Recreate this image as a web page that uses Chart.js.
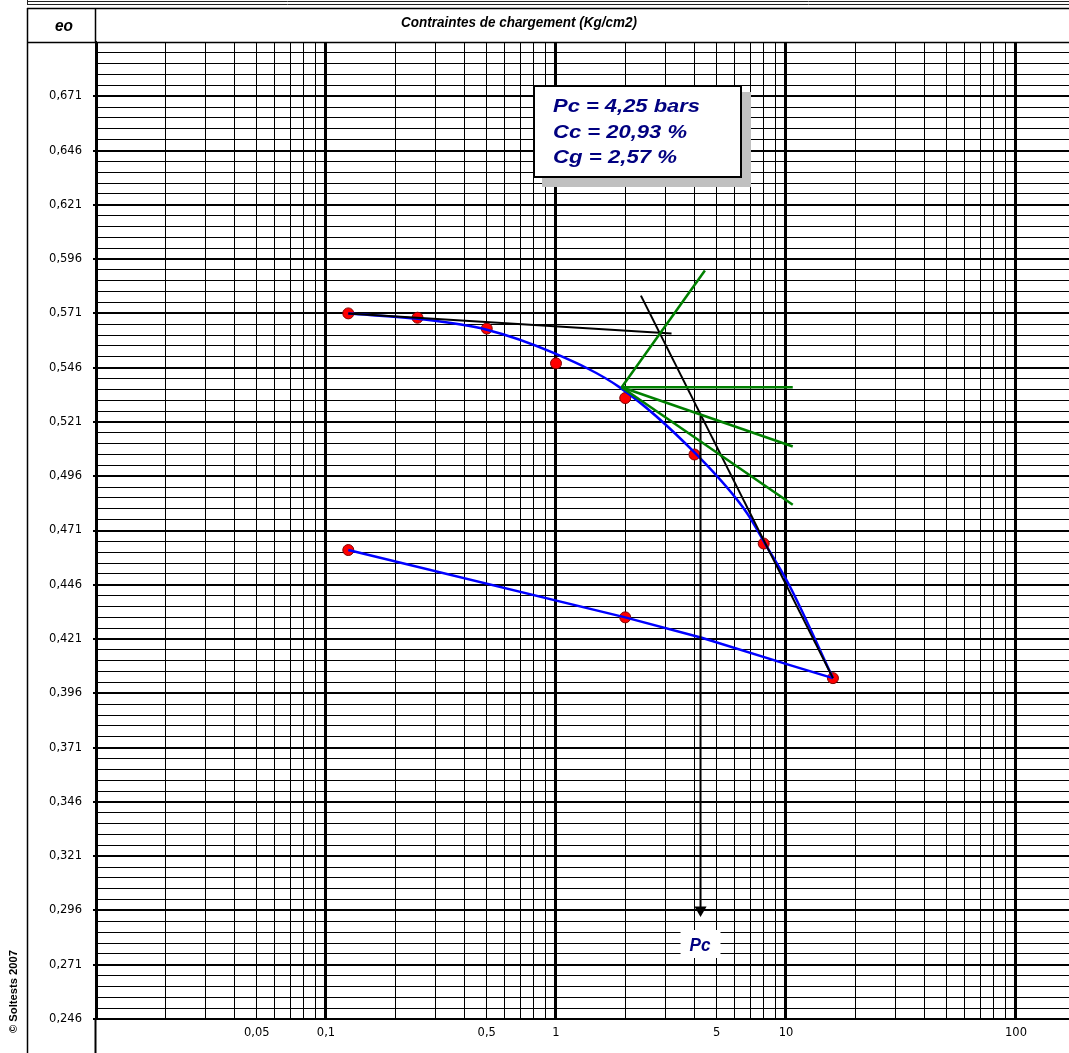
<!DOCTYPE html>
<html>
<head>
<meta charset="utf-8">
<script src="https://cdn.jsdelivr.net/npm/chart.js@4.4.0/dist/chart.umd.min.js"></script>
<style>
  html, body { margin: 0; padding: 0; background: #fff; overflow: hidden; }
  #wrap { width: 1069px; height: 1053px; position: relative; }
</style>
</head>
<body>
<div id="wrap"><canvas id="oedo" width="1069" height="1053"></canvas></div>
<script>
// essai oedometrique - courbe e / log(p)

// points mesures (chargement puis dechargement)
var pressions = [0.125, 0.25, 0.5, 1, 2, 4, 8, 16, 2, 0.125];
var indicesVides = [0.571, 0.569, 0.564, 0.548, 0.532, 0.506, 0.465, 0.403, 0.431, 0.462];

// courbe lissee de chargement
var courbeP = [0.125, 0.256, 0.5, 0.97, 1.9, 4.09, 6.75, 8.24, 10.4, 16];
var courbeE = [0.5709, 0.5684, 0.5635, 0.5529, 0.5368, 0.5059, 0.4792, 0.4637, 0.4452, 0.403];

// dechargement
var dechargeP = [16, 10.4, 4.3, 2, 0.125];
var dechargeE = [0.403, 0.409, 0.4216, 0.431, 0.462];

// construction de Casagrande
var tangenteP = [0.125, 3.18];
var tangenteE = [0.571, 0.5617];
var viergeP = [2.34, 16];
var viergeE = [0.5792, 0.403];
var origineP = 1.93, origineE = 0.537;
var vertP = [4.44, 10.7, 10.7, 10.7];
var vertE = [0.5908, 0.537, 0.5097, 0.4829];
var pcP = [4.25, 4.25];
var pcE = [0.5239, 0.2962];

// etiquettes des axes
var xLabels = [0.05, 0.1, 0.5, 1, 5, 10, 100];
var yLabels = [0.246, 0.271, 0.296, 0.321, 0.346, 0.371, 0.396, 0.421, 0.446, 0.471,
               0.496, 0.521, 0.546, 0.571, 0.596, 0.621, 0.646, 0.671];

var resultats = ["Pc = 4,25 bars", "Cc = 20,93 %", "Cg = 2,57 %"];

function pts(px, py) {
  var out = [];
  for (var i = 0; i < px.length; i++) out.push({x: px[i], y: py[i]});
  return out;
}

function virgule(v) {
  return String(v).replace(".", ",");
}

function estDans(liste, v) {
  for (var i = 0; i < liste.length; i++) {
    if (Math.abs(liste[i] - v) < 1e-7 * Math.max(1, Math.abs(v))) return true;
  }
  return false;
}

// lignes de grille
var grilleX = [];
for (var e = -2; e <= 2; e++) {
  for (var m = 1; m <= 9; m++) {
    var v = Number((m * Math.pow(10, e)).toPrecision(6));
    if (v <= 170) grilleX.push(v);
  }
}
var grilleY = [];
for (var i = 0; i <= 90; i++) grilleY.push((246 + 5 * i) / 1000);

function decade(v) {
  var l = Math.log10(v);
  return Math.abs(l - Math.round(l)) < 1e-9;
}

function sansMarges(s) {
  s.paddingLeft = 0; s.paddingRight = 0;
  s.paddingTop = 0; s.paddingBottom = 0;
}

function texteAjuste(ctx, txt, x, yBase, largeur, police, couleur) {
  ctx.save();
  ctx.font = police;
  var w = ctx.measureText(txt).width;
  ctx.translate(x, yBase);
  ctx.scale(largeur / w, 1);
  ctx.fillStyle = couleur;
  ctx.textAlign = "left";
  ctx.textBaseline = "alphabetic";
  ctx.fillText(txt, 0, 0);
  ctx.restore();
}

var habillage = {
  id: "habillage",
  afterDraw: function(chart) {
    var ctx = chart.ctx;
    var W = chart.width, H = chart.height;
    ctx.save();

    // cadre du haut
    ctx.lineWidth = 1;
    ctx.strokeStyle = "#222";
    ctx.beginPath();
    ctx.moveTo(27, 1.5); ctx.lineTo(W, 1.5);
    ctx.moveTo(27, 4.5); ctx.lineTo(W, 4.5);
    ctx.moveTo(27.5, 0); ctx.lineTo(27.5, 4.5);
    ctx.stroke();

    ctx.strokeStyle = "#000";
    ctx.lineWidth = 1.5;
    ctx.beginPath();
    ctx.moveTo(27, 8.5); ctx.lineTo(W, 8.5);
    ctx.moveTo(27, 42.5); ctx.lineTo(W, 42.5);
    ctx.moveTo(27.5, 8); ctx.lineTo(27.5, H);
    ctx.moveTo(95.5, 8); ctx.lineTo(95.5, 43);
    ctx.stroke();
    ctx.lineWidth = 2;
    ctx.beginPath();
    ctx.moveTo(95.5, chart.chartArea.bottom); ctx.lineTo(95.5, H);
    ctx.stroke();

    // en-tetes
    texteAjuste(ctx, "eo", 55, 31, 18, "bold italic 17px 'Liberation Sans'", "#000");
    texteAjuste(ctx, "Contraintes de chargement (Kg/cm2)", 401, 27, 236,
                "bold italic 15px 'Liberation Sans'", "#000");

    // copyright vertical
    ctx.save();
    ctx.translate(17, 1033);
    ctx.rotate(-Math.PI / 2);
    texteAjuste(ctx, "\u00a9 Soltests 2007", 0, 0, 83, "bold 10px 'Liberation Sans'", "#000");
    ctx.restore();

    // cadre des resultats
    ctx.fillStyle = "#c0c0c0";
    ctx.fillRect(542, 92, 209, 95);
    ctx.fillStyle = "#fff";
    ctx.fillRect(533, 85, 209, 93);
    ctx.lineWidth = 2;
    ctx.strokeStyle = "#000";
    ctx.strokeRect(534, 86, 207, 91);
    var larg = [147, 134, 124];
    var base = [112, 138, 163];
    for (var k = 0; k < resultats.length; k++) {
      texteAjuste(ctx, resultats[k], 553, base[k], larg[k], "bold italic 19px 'Liberation Sans'", "#000080");
    }

    // etiquette Pc
    var xs = chart.scales.x;
    var xp = xs.getPixelForValue(pcP[0]);
    ctx.fillStyle = "#fff";
    ctx.fillRect(xp - 20, 930, 40, 28);
    texteAjuste(ctx, "Pc", xp - 11, 951, 21, "bold italic 19px 'Liberation Sans'", "#000080");

    ctx.restore();
  }
};

var dsVert = [];
for (var g = 0; g < vertP.length; g++) {
  dsVert.push({
    data: pts([origineP, vertP[g]], [origineE, vertE[g]]),
    borderColor: "#008000", borderWidth: 2.5, pointRadius: 0, showLine: true
  });
}

var ctx = document.getElementById("oedo");
var chart = new Chart(ctx, {
  type: "scatter",
  data: {
    datasets: dsVert.concat([
      {
        data: pts(pcP, pcE),
        borderColor: "#000", borderWidth: 2, showLine: true,
        pointRadius: [0, 5], pointStyle: "triangle", rotation: 180,
        pointBackgroundColor: "#000", pointBorderColor: "#000"
      },
      {
        data: pts(viergeP, viergeE),
        borderColor: "#000", borderWidth: 2, pointRadius: 0, showLine: true
      },
      {
        data: pts(tangenteP, tangenteE),
        borderColor: "#000", borderWidth: 2, pointRadius: 0, showLine: true
      },
      {
        data: pts(courbeP, courbeE),
        borderColor: "#0000ff", borderWidth: 2.5, pointRadius: 0, showLine: true,
        cubicInterpolationMode: "monotone"
      },
      {
        data: pts(dechargeP, dechargeE),
        borderColor: "#0000ff", borderWidth: 2.5, pointRadius: 0, showLine: true
      },
      {
        data: pts(pressions, indicesVides),
        showLine: false, pointRadius: 5.5,
        pointBackgroundColor: "#ff0000", pointBorderColor: "#800000", pointBorderWidth: 1
      }
    ])
  },
  options: {
    responsive: false,
    animation: false,
    layout: { autoPadding: false, padding: { top: 42, right: 0, bottom: 0, left: 0 } },
    plugins: { legend: { display: false }, tooltip: { enabled: false } },
    scales: {
      x: {
        type: "logarithmic",
        min: 0.01,
        max: 170,
        afterFit: function(s) { s.height = 34; sansMarges(s); },
        afterBuildTicks: function(s) {
          s.ticks = grilleX.map(function(v) { return {value: v}; });
        },
        border: { display: true, color: "#000", width: 2 },
        grid: {
          drawTicks: false,
          color: "#000",
          lineWidth: function(c) { return c.tick && decade(c.tick.value) ? 3 : 1; }
        },
        ticks: {
          autoSkip: false, maxRotation: 0, padding: 7, color: "#000",
          font: { family: "DejaVu Sans", size: 11.5 },
          callback: function(v) { return estDans(xLabels, v) ? virgule(v) : ""; }
        }
      },
      y: {
        min: 0.246,
        max: 0.696,
        afterFit: function(s) { s.width = 96; sansMarges(s); },
        afterBuildTicks: function(s) {
          s.ticks = grilleY.map(function(v) { return {value: v}; });
        },
        border: { display: true, color: "#000", width: 2 },
        grid: {
          tickLength: 3,
          color: "#000",
          tickColor: function(c) { return c.tick && estDans(yLabels, c.tick.value) ? "#000" : "rgba(0,0,0,0)"; },
          lineWidth: function(c) { return c.tick && estDans(yLabels, c.tick.value) ? 2 : 1; }
        },
        ticks: {
          autoSkip: false, padding: 11, color: "#000",
          font: { family: "DejaVu Sans", size: 11.5 },
          callback: function(v) { return estDans(yLabels, v) ? virgule(v) : ""; }
        }
      }
    }
  },
  plugins: [habillage]
});
</script>
</body>
</html>
